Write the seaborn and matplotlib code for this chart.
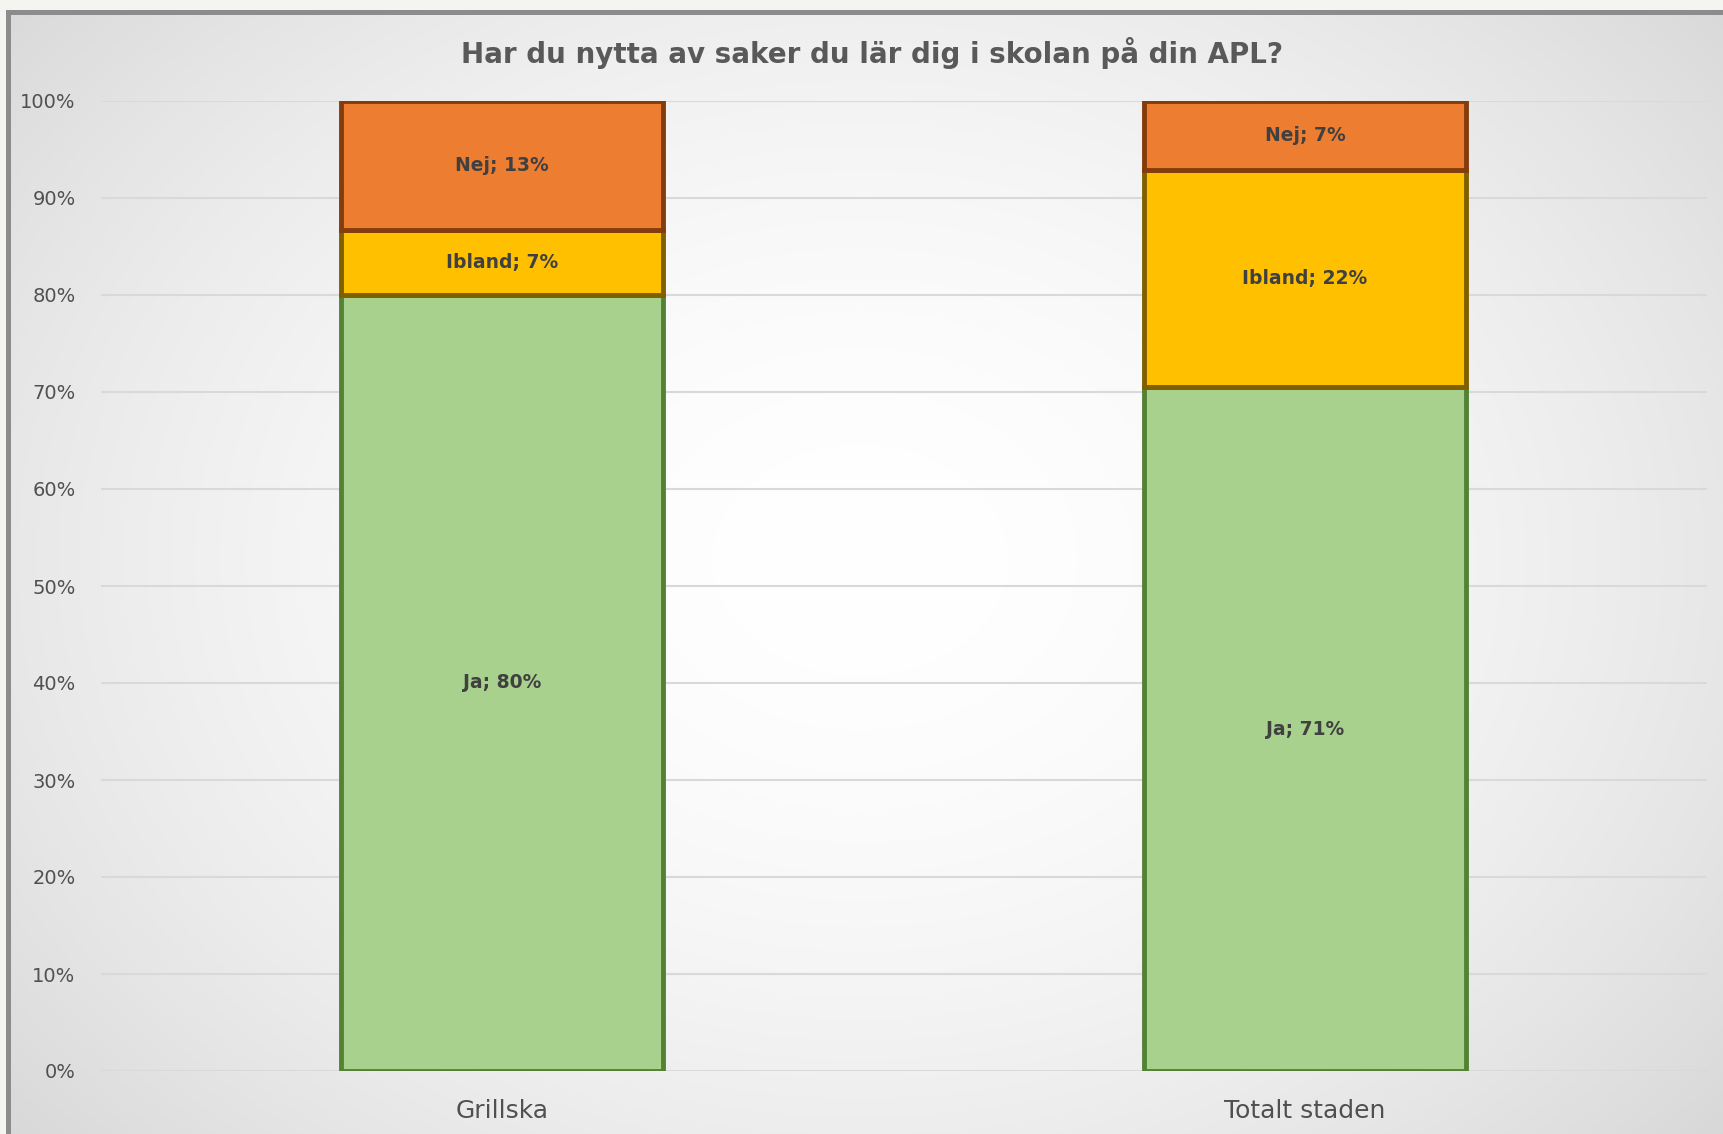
import numpy as np
import pandas as pd
import matplotlib
matplotlib.use("Agg")
import matplotlib.pyplot as plt
import seaborn as sns
from matplotlib.patches import Rectangle

# ---- data ----
categories = ["Grillska", "Totalt staden"]
series_names = ["Ja", "Ibland", "Nej"]
ja_values = [80.0, 70.5]
ibland_values = [6.7, 22.4]
nej_values = [13.3, 7.1]
label_texts = {
    "Ja": ["Ja; 80%", "Ja; 71%"],
    "Ibland": ["Ibland; 7%", "Ibland; 22%"],
    "Nej": ["Nej; 13%", "Nej; 7%"],
}
yticks = [0, 10, 20, 30, 40, 50, 60, 70, 80, 90, 100]
ytick_labels = [f"{v}%" for v in yticks]
title = "Har du nytta av saker du lär dig i skolan på din APL?"

face_colors = {"Ja": "#A9D18E", "Ibland": "#FFC000", "Nej": "#ED7D31"}
edge_colors = {"Ja": "#548235", "Ibland": "#7F6000", "Nej": "#843C0C"}

sns.set_theme(style="white")
plt.rcParams["font.family"] = ["DejaVu Sans"]

W, H = 1723, 1134
fig = plt.figure(figsize=(W / 100, H / 100), dpi=100)

# ---- background: radial gradient + frame ----
bg = fig.add_axes([0, 0, 1, 1], zorder=0)
yy, xx = np.mgrid[0:H, 0:W]
cx, cy = 860, 560
r = np.sqrt(((xx - cx) / 1000.0) ** 2 + ((yy - cy) / 780.0) ** 2)
r = np.clip(r, 0, 1.2) / 1.2
v = 1.0 - 0.17 * r ** 1.8
img = np.dstack([v, v, v])
bg.imshow(img, extent=[0, W, H, 0], aspect="auto")
bg.set_xlim(0, W)
bg.set_ylim(H, 0)
# outer off-white margin
bg.add_patch(Rectangle((0, 0), W, 10, facecolor="#f4f4f0", edgecolor="none"))
bg.add_patch(Rectangle((0, 0), 6, H, facecolor="#f4f4f0", edgecolor="none"))
# gray frame
bg.add_patch(Rectangle((6, 10), W, 5, facecolor="#8c8c8c", edgecolor="none"))
bg.add_patch(Rectangle((6, 10), 5, H, facecolor="#8c8c8c", edgecolor="none"))
bg.axis("off")

# ---- main chart ----
ax_left, ax_right = 100.5, 1706.5
ax_top, ax_bottom = 101, 1071
ax = fig.add_axes([ax_left / W, (H - ax_bottom) / H,
                   (ax_right - ax_left) / W, (ax_bottom - ax_top) / H], zorder=1)
ax.patch.set_alpha(0)

df = pd.DataFrame({"category": categories, "Ja": ja_values,
                   "Ibland": ibland_values, "Nej": nej_values})

bottoms = np.zeros(len(categories))
for s in series_names:
    sns.barplot(data=df, x="category", y=s, ax=ax, bottom=bottoms,
                color=face_colors[s], edgecolor=edge_colors[s], linewidth=3.5,
                width=0.4, saturation=1, zorder=3)
    vals = df[s].to_numpy()
    for i, (b, h) in enumerate(zip(bottoms, vals)):
        ax.text(i, b + h / 2, label_texts[s][i], ha="center", va="center",
                fontsize=13.5, fontweight="bold", color="#404040", zorder=5)
    bottoms = bottoms + vals

ax.set_xlim(-0.5, 1.5)
ax.set_ylim(0, 100)
ax.set_yticks(yticks)
ax.set_yticklabels(ytick_labels)
ax.yaxis.grid(True, color="#d9d9d9", linewidth=1.5, zorder=0)
ax.set_axisbelow(True)
ax.xaxis.grid(False)
for sp in ax.spines.values():
    sp.set_visible(False)
ax.tick_params(axis="y", length=0, pad=18, labelsize=14, labelcolor="#505050")
ax.tick_params(axis="x", length=0, pad=20, labelsize=18, labelcolor="#505050")
ax.set_xlabel("")
ax.set_ylabel("")

fig.text(872 / W, 1 - 53 / H, title, ha="center", va="center",
         fontsize=20, fontweight="bold", color="#595959", zorder=5)

fig.savefig("out.png", dpi=100)
